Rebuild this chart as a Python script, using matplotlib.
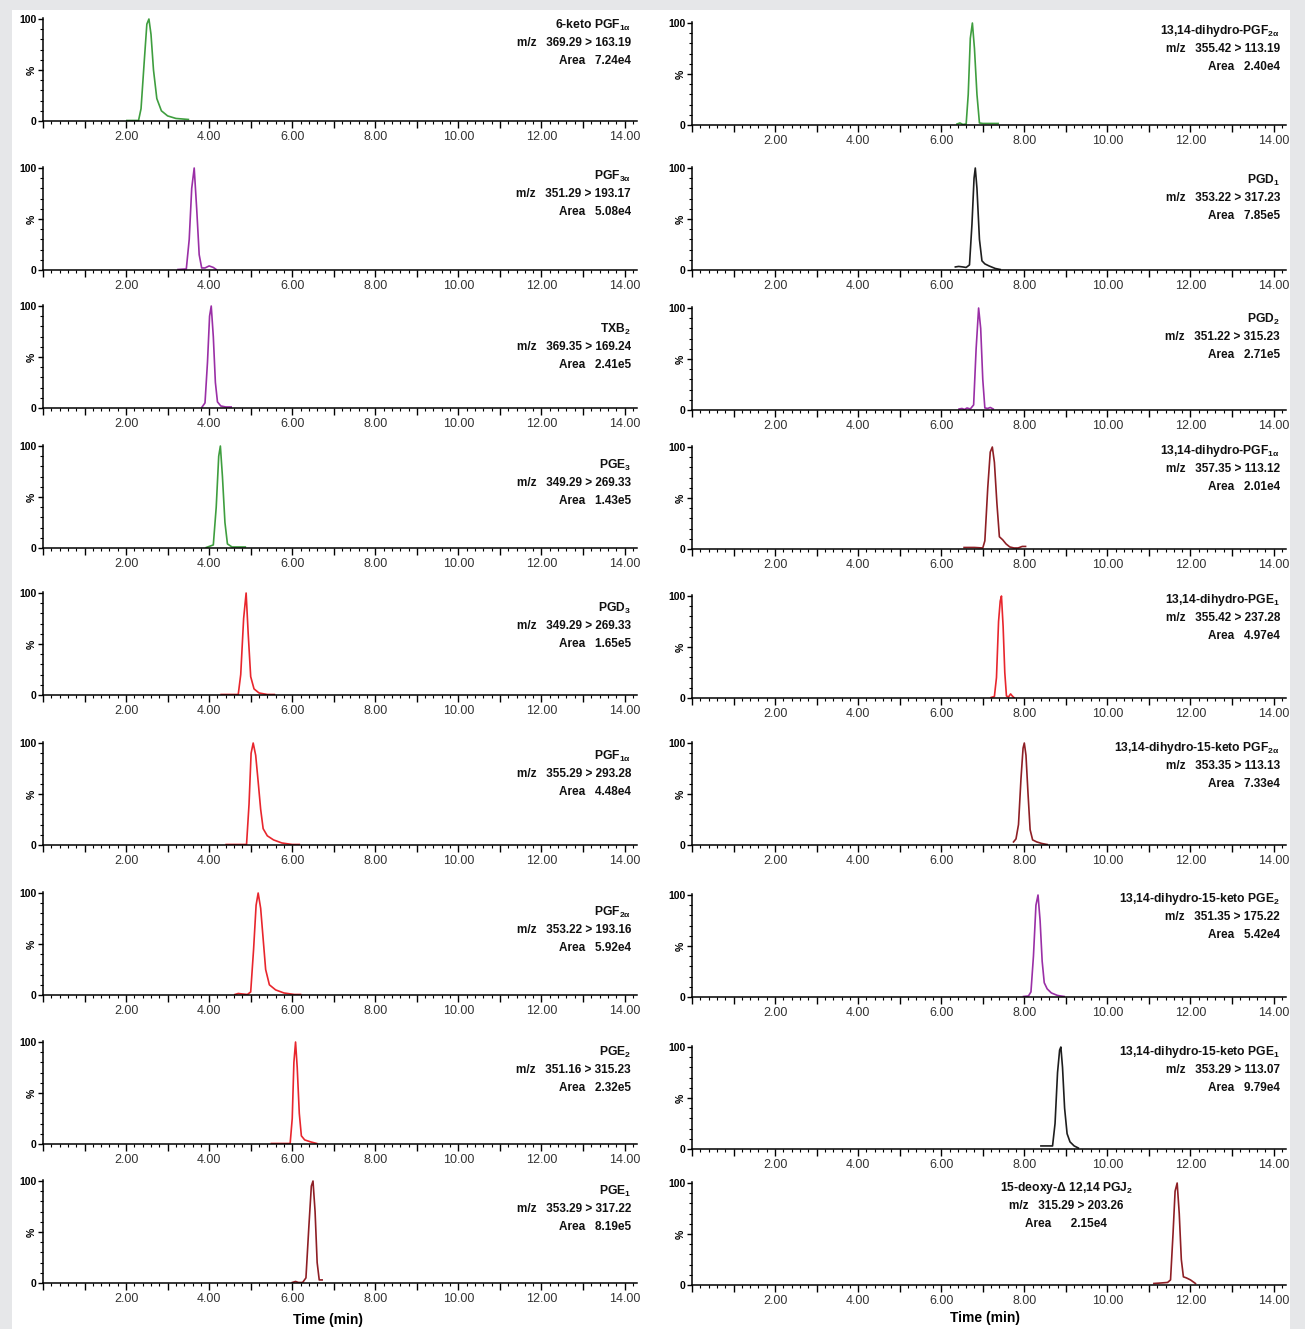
import matplotlib.pyplot as plt
from matplotlib.patches import Rectangle
from matplotlib.ticker import MultipleLocator, FuncFormatter

plt.rcParams['font.family'] = ['Liberation Sans', 'DejaVu Sans']
plt.rcParams['mathtext.fontset'] = 'custom'
plt.rcParams['mathtext.rm'] = 'Liberation Sans'
plt.rcParams['mathtext.bf'] = 'Liberation Sans:bold'
plt.rcParams['mathtext.default'] = 'bf'

# ---- data ----
names = [
    r"6-keto PGF$_{1\alpha}$", r"PGF$_{3\alpha}$", r"TXB$_2$", r"PGE$_3$", r"PGD$_3$",
    r"PGF$_{1\alpha}$", r"PGF$_{2\alpha}$", r"PGE$_2$", r"PGE$_1$",
    r"13,14-dihydro-PGF$_{2\alpha}$", r"PGD$_1$", r"PGD$_2$", r"13,14-dihydro-PGF$_{1\alpha}$",
    r"13,14-dihydro-PGE$_1$", r"13,14-dihydro-15-keto PGF$_{2\alpha}$",
    r"13,14-dihydro-15-keto PGE$_2$", r"13,14-dihydro-15-keto PGE$_1$",
    r"15-deoxy-Δ 12,14 PGJ$_2$",
]
transitions = [
    "369.29 > 163.19", "351.29 > 193.17", "369.35 > 169.24", "349.29 > 269.33", "349.29 > 269.33",
    "355.29 > 293.28", "353.22 > 193.16", "351.16 > 315.23", "353.29 > 317.22",
    "355.42 > 113.19", "353.22 > 317.23", "351.22 > 315.23", "357.35 > 113.12",
    "355.42 > 237.28", "353.35 > 113.13", "351.35 > 175.22", "353.29 > 113.07",
    "315.29 > 203.26",
]
areas = [
    "7.24e4", "5.08e4", "2.41e5", "1.43e5", "1.65e5", "4.48e4", "5.92e4", "2.32e5", "8.19e5",
    "2.40e4", "7.85e5", "2.71e5", "2.01e4", "4.97e4", "7.33e4", "5.42e4", "9.79e4", "2.15e4",
]
trace_colors = [
    "#3f9e3f", "#9a2fa6", "#9a2fa6", "#3f9e3f", "#e8262d", "#e8262d", "#e8262d", "#e8262d", "#8e1f25",
    "#3f9e3f", "#1e1e1e", "#9a2fa6", "#8e1f25", "#e8262d", "#8e1f25", "#9a2fa6", "#1e1e1e", "#8e1f25",
]

times = [
    [2.02, 2.30, 2.36, 2.44, 2.50, 2.55, 2.60, 2.66, 2.74, 2.85, 3.00, 3.20, 3.50],
    [3.25, 3.45, 3.52, 3.58, 3.64, 3.70, 3.76, 3.82, 3.90, 4.00, 4.10, 4.17],
    [3.83, 3.90, 3.96, 4.01, 4.05, 4.10, 4.15, 4.20, 4.28, 4.40, 4.53],
    [3.93, 4.10, 4.17, 4.23, 4.27, 4.32, 4.38, 4.44, 4.55, 4.87],
    [4.29, 4.70, 4.76, 4.83, 4.89, 4.94, 5.00, 5.08, 5.20, 5.40, 5.57],
    [4.41, 4.90, 4.96, 5.01, 5.06, 5.12, 5.18, 5.24, 5.30, 5.40, 5.55, 5.75, 6.00, 6.17],
    [4.62, 4.70, 4.80, 4.92, 5.00, 5.07, 5.13, 5.18, 5.24, 5.30, 5.36, 5.45, 5.60, 5.80, 6.05, 6.20],
    [5.50, 5.95, 6.00, 6.04, 6.08, 6.12, 6.17, 6.22, 6.30, 6.45, 6.59],
    [6.00, 6.08, 6.15, 6.25, 6.33, 6.40, 6.46, 6.50, 6.55, 6.60, 6.65, 6.72],
    [6.38, 6.45, 6.52, 6.60, 6.65, 6.70, 6.75, 6.80, 6.86, 6.92, 7.00, 7.15, 7.37],
    [6.34, 6.42, 6.52, 6.60, 6.68, 6.74, 6.79, 6.82, 6.86, 6.92, 6.98, 7.05, 7.15, 7.30, 7.42],
    [6.43, 6.50, 6.56, 6.62, 6.70, 6.78, 6.84, 6.90, 6.95, 7.00, 7.05, 7.12, 7.18, 7.25],
    [6.55, 6.80, 7.00, 7.05, 7.12, 7.18, 7.23, 7.28, 7.34, 7.40, 7.48, 7.56, 7.65, 7.75, 7.85, 7.95, 8.03],
    [7.20, 7.28, 7.33, 7.38, 7.42, 7.45, 7.49, 7.53, 7.57, 7.62, 7.67, 7.71, 7.75],
    [7.74, 7.80, 7.86, 7.92, 7.97, 8.00, 8.04, 8.09, 8.14, 8.20, 8.30, 8.42, 8.55],
    [7.98, 8.10, 8.16, 8.22, 8.28, 8.33, 8.38, 8.43, 8.48, 8.55, 8.65, 8.80, 8.96],
    [8.40, 8.55, 8.68, 8.74, 8.80, 8.85, 8.88, 8.92, 8.97, 9.03, 9.10, 9.20, 9.30],
    [11.12, 11.30, 11.45, 11.52, 11.58, 11.63, 11.68, 11.73, 11.78, 11.83, 11.90, 12.00, 12.12],
]
intensities = [
    [0.5, 0.5, 12, 60, 95, 100, 85, 50, 22, 10, 5, 2.5, 1.5],
    [0.5, 1, 30, 80, 100, 60, 15, 2, 2, 4, 2.5, 0.5],
    [1, 5, 45, 90, 100, 70, 25, 6, 2, 1, 1],
    [0.5, 3, 40, 90, 100, 70, 25, 4, 1, 1],
    [0.5, 0.5, 20, 75, 100, 60, 18, 6, 2, 0.5, 0.5],
    [0.5, 0.5, 40, 90, 100, 88, 62, 35, 16, 9, 5, 2, 0.5, 0.5],
    [0.5, 1.5, 1, 0.5, 3, 45, 88, 100, 85, 55, 25, 10, 5, 2, 0.5, 0.5],
    [0.5, 0.5, 25, 80, 100, 75, 30, 8, 4, 2, 0.5],
    [0.5, 1.5, 0.5, 0.5, 5, 55, 95, 100, 70, 20, 3, 3],
    [1, 2, 0.5, 1, 30, 85, 100, 75, 30, 2, 1.5, 1.5, 1.5],
    [3, 3.5, 3, 2.5, 5, 45, 90, 100, 80, 30, 9, 6, 4, 1.5, 0.5],
    [1, 1.5, 0.5, 2, 1, 5, 60, 100, 80, 30, 2, 1.5, 2.5, 1],
    [1.5, 1.5, 1, 8, 60, 95, 100, 85, 45, 12, 9, 5, 2, 1, 1, 2.5, 2.5],
    [0.5, 1.5, 20, 75, 95, 100, 70, 25, 2, 1, 4, 2, 0.5],
    [3, 6, 20, 65, 95, 100, 88, 50, 15, 5, 3, 1.5, 0.5],
    [0.5, 1, 5, 40, 90, 100, 75, 35, 14, 8, 4, 1.5, 0.5],
    [3, 3, 3, 25, 75, 97, 100, 80, 40, 15, 7, 3, 1],
    [1.5, 2, 2.5, 5, 50, 92, 100, 70, 25, 8, 7, 5, 1.5],
]

# ---- layout (pixels) ----
W, H = 1305, 1329
left_tops = [18, 167, 305, 445, 592, 742, 892, 1041, 1180]
right_tops = [22, 167, 307, 446, 595, 742, 894, 1046, 1182]
label_offsets = [7, 9, 24, 20, 16, 14, 20, 11, 11,
                 9, 13, 12, 5, 5, 6, 5, 6, 6]
col_x0 = [43, 692]
ax_w, ax_h = 594, 103

fig = plt.figure(figsize=(W / 100, H / 100), dpi=100, facecolor="#e6e7e9")
fig.patches.append(Rectangle((12 / W, 0), (1290 - 12) / W, 1 - 10 / H,
                             transform=fig.transFigure, facecolor="white",
                             edgecolor="none", zorder=-10))

even_fmt = FuncFormatter(lambda v, p: f"{v:.2f}" if v > 0.5 and round(v) % 2 == 0 else "")

for i in range(18):
    col = i // 9
    row = i % 9
    top = (left_tops if col == 0 else right_tops)[row]
    ax = fig.add_axes([col_x0[col] / W, 1 - (top + ax_h) / H, ax_w / W, ax_h / H])
    ax.patch.set_alpha(0)
    ax.plot(times[i], intensities[i], color=trace_colors[i], lw=1.2)
    ax.set_xlim(0, 14.3)
    ax.set_ylim(0, 101)
    for s in ["top", "right"]:
        ax.spines[s].set_visible(False)
    for s in ["left", "bottom"]:
        ax.spines[s].set_linewidth(1.1)
    ax.xaxis.set_major_locator(MultipleLocator(1))
    ax.xaxis.set_minor_locator(MultipleLocator(0.2))
    ax.xaxis.set_major_formatter(even_fmt)
    ax.set_yticks([0, 50, 100], ["0", "%", "100"])
    ax.yaxis.set_minor_locator(MultipleLocator(10))
    ax.get_yticklabels()[1].set_rotation(90)
    ax.tick_params(axis="x", which="major", length=5, width=1, labelsize=9,
                   labelcolor="#333333", pad=2)
    ax.tick_params(axis="x", which="minor", length=2.5, width=0.8)
    ax.tick_params(axis="y", which="major", length=3.5, width=1, labelsize=7.5, pad=1)
    ax.tick_params(axis="y", which="minor", length=2, width=0.8)
    for lbl in ax.get_yticklabels():
        lbl.set_fontweight("bold")

    lines = [names[i], "m/z   " + transitions[i], "Area   " + areas[i]]
    if i == 17:
        lines[2] = "Area      " + areas[i]
        xa, ha = 0.63, "center"
    else:
        xa, ha = 0.99, "right"
    for k, txt in enumerate(lines):
        y_px = label_offsets[i] + 18 * k
        ax.text(xa, 1 - y_px / ax_h, txt, transform=ax.transAxes, ha=ha, va="center",
                fontsize=8.7 if k == 0 else 8.5, fontweight="bold", color="#111111")

fig.text(328 / W, 1 - 1320 / H, "Time (min)", ha="center", va="center",
         fontsize=10, fontweight="bold")
fig.text(985 / W, 1 - 1318 / H, "Time (min)", ha="center", va="center",
         fontsize=10, fontweight="bold")

fig.savefig("out.png", dpi=100, facecolor=fig.get_facecolor())
